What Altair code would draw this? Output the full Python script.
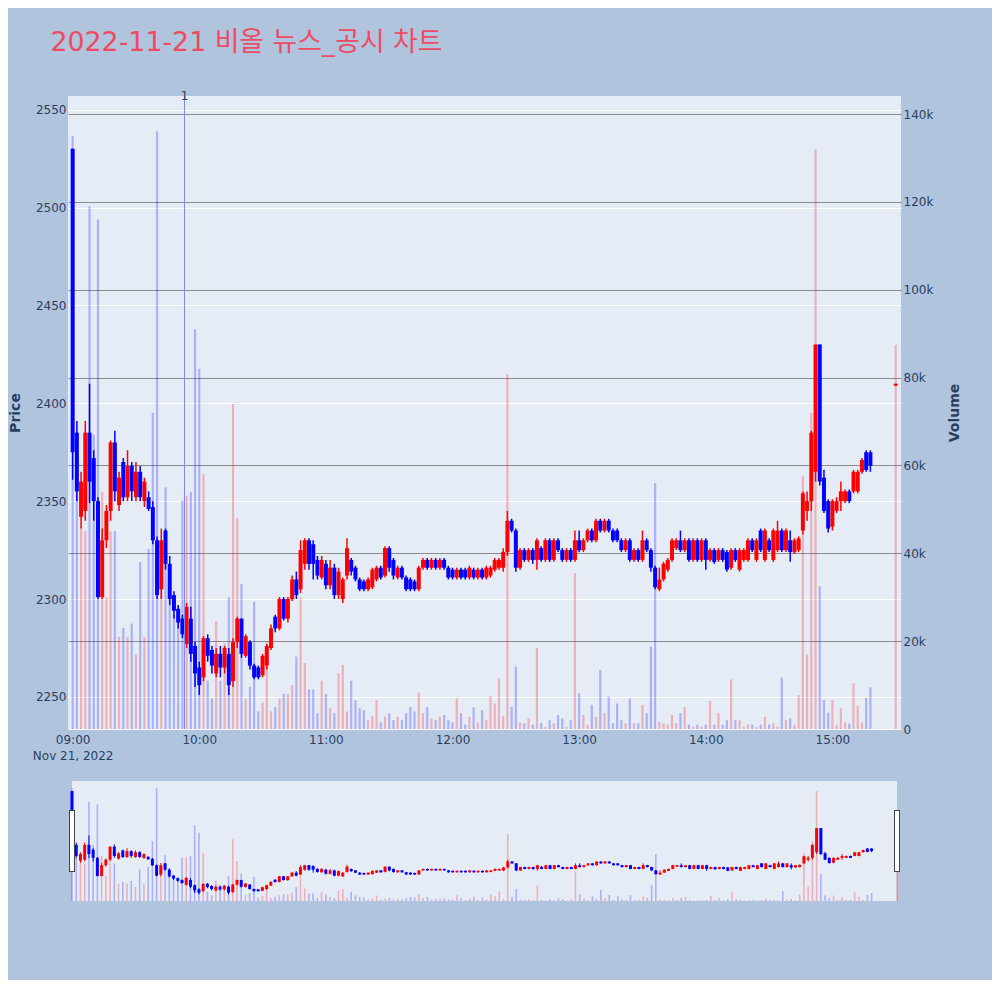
import altair as alt
import pandas as pd

TITLE = "2022-11-21 비올 뉴스_공시 차트"

# 2-minute candles from 09:00 to 15:18, plus the 15:30 closing auction
minutes = list(range(0, 380, 2)) + [390]
times = [f"2022-11-21T{9 + m // 60:02d}:{m % 60:02d}:00" for m in minutes]

opens = [
    2530, 2385, 2342, 2345, 2385, 2372, 2350, 2301, 2330, 2345,
    2380, 2348, 2370, 2352, 2368, 2352, 2365, 2350, 2352, 2347,
    2330, 2305, 2335, 2318, 2302, 2295, 2290, 2277, 2290, 2276,
    2265, 2260, 2280, 2274, 2262, 2272, 2265, 2272, 2258, 2278,
    2290, 2271, 2278, 2266, 2265, 2261, 2266, 2275, 2291, 2285,
    2300, 2290, 2300, 2310, 2305, 2318, 2330, 2328, 2320, 2311,
    2318, 2307, 2316, 2302, 2300, 2312, 2320, 2316, 2310, 2309,
    2305, 2306, 2310, 2316, 2312, 2326, 2320, 2311, 2316, 2311,
    2310, 2309, 2305, 2316, 2320, 2316, 2320, 2316, 2320, 2316,
    2315, 2311, 2315, 2315, 2311, 2315, 2311, 2315, 2311, 2312,
    2315, 2316, 2316, 2324, 2340, 2335, 2316, 2325, 2320, 2325,
    2320, 2326, 2320, 2330, 2320, 2330, 2325, 2320, 2325, 2320,
    2330, 2325, 2330, 2335, 2330, 2340, 2335, 2340, 2335, 2335,
    2330, 2325, 2330, 2320, 2325, 2320, 2330, 2325, 2316, 2305,
    2310, 2315, 2320, 2326, 2330, 2325, 2330, 2320, 2330, 2320,
    2330, 2320, 2325, 2320, 2325, 2324, 2316, 2325, 2315, 2320,
    2320, 2330, 2320, 2335, 2320, 2330, 2320, 2325, 2335, 2325,
    2330, 2324, 2325, 2335, 2345, 2350, 2365, 2430, 2362, 2350,
    2337, 2345, 2350, 2350, 2355, 2355, 2355, 2365, 2375, 2375,
    2409,
]
highs = [
    2530, 2391, 2365, 2391, 2410, 2376, 2352, 2336, 2348, 2381,
    2386, 2365, 2372, 2376, 2370, 2370, 2368, 2362, 2355, 2350,
    2332, 2336, 2336, 2322, 2304, 2297, 2292, 2298, 2296, 2278,
    2268, 2281, 2282, 2276, 2275, 2276, 2276, 2275, 2280, 2291,
    2290, 2282, 2279, 2267, 2266, 2272, 2277, 2287, 2292, 2301,
    2301, 2301, 2312, 2314, 2330, 2331, 2331, 2330, 2322, 2322,
    2320, 2320, 2318, 2316, 2311, 2331, 2321, 2317, 2311, 2310,
    2311, 2316, 2317, 2317, 2327, 2327, 2321, 2317, 2317, 2312,
    2311, 2310, 2317, 2321, 2321, 2321, 2321, 2321, 2321, 2317,
    2316, 2316, 2316, 2316, 2317, 2316, 2316, 2316, 2317, 2317,
    2321, 2321, 2326, 2345, 2341, 2336, 2326, 2326, 2326, 2326,
    2331, 2327, 2331, 2331, 2331, 2331, 2326, 2326, 2326, 2335,
    2335, 2331, 2336, 2336, 2341, 2341, 2341, 2341, 2336, 2336,
    2331, 2331, 2331, 2326, 2326, 2335, 2331, 2326, 2317, 2316,
    2319, 2321, 2331, 2331, 2335, 2331, 2331, 2331, 2331, 2331,
    2331, 2326, 2326, 2326, 2326, 2325, 2326, 2326, 2326, 2326,
    2331, 2331, 2331, 2336, 2336, 2331, 2336, 2340, 2336, 2336,
    2335, 2331, 2332, 2355, 2355, 2386, 2430, 2430, 2366, 2351,
    2351, 2352, 2360, 2356, 2356, 2366, 2366, 2372, 2376, 2376,
    2410,
]
lows = [
    2361, 2350, 2336, 2340, 2349, 2340, 2300, 2300, 2326, 2340,
    2350, 2345, 2350, 2350, 2350, 2350, 2350, 2347, 2345, 2328,
    2300, 2300, 2315, 2297, 2290, 2285, 2280, 2275, 2268, 2255,
    2251, 2258, 2268, 2262, 2260, 2260, 2262, 2251, 2255, 2275,
    2270, 2270, 2264, 2259, 2259, 2260, 2264, 2274, 2283, 2284,
    2289, 2288, 2299, 2300, 2303, 2315, 2315, 2310, 2310, 2310,
    2305, 2305, 2300, 2300, 2298, 2310, 2312, 2309, 2304, 2304,
    2304, 2305, 2309, 2310, 2311, 2314, 2310, 2310, 2310, 2304,
    2304, 2304, 2304, 2315, 2315, 2315, 2315, 2315, 2315, 2310,
    2310, 2310, 2310, 2310, 2310, 2310, 2310, 2310, 2310, 2311,
    2314, 2315, 2314, 2322, 2334, 2314, 2315, 2319, 2319, 2318,
    2315, 2319, 2319, 2319, 2319, 2324, 2319, 2319, 2319, 2319,
    2324, 2324, 2329, 2329, 2329, 2334, 2334, 2334, 2329, 2329,
    2324, 2324, 2319, 2319, 2319, 2319, 2324, 2314, 2305, 2304,
    2309, 2314, 2319, 2325, 2324, 2324, 2319, 2319, 2319, 2319,
    2315, 2319, 2318, 2319, 2319, 2314, 2315, 2319, 2314, 2319,
    2319, 2324, 2319, 2324, 2319, 2324, 2319, 2324, 2324, 2324,
    2319, 2323, 2324, 2333, 2340, 2345, 2360, 2358, 2344, 2334,
    2335, 2344, 2345, 2349, 2349, 2354, 2354, 2364, 2365, 2365,
    2409,
]
closes = [
    2375, 2355, 2360, 2385, 2360, 2350, 2301, 2330, 2345, 2380,
    2355, 2362, 2352, 2368, 2355, 2365, 2352, 2360, 2346, 2330,
    2302, 2330, 2318, 2300, 2294, 2288, 2282, 2296, 2272, 2262,
    2256, 2280, 2271, 2266, 2272, 2265, 2275, 2256, 2278, 2290,
    2272, 2281, 2266, 2260, 2260, 2271, 2276, 2285, 2285, 2300,
    2290, 2300, 2310, 2302, 2325, 2330, 2318, 2318, 2312, 2320,
    2307, 2316, 2302, 2314, 2310, 2326, 2314, 2310, 2305, 2305,
    2310, 2315, 2316, 2311, 2326, 2316, 2312, 2316, 2311, 2305,
    2305, 2305, 2316, 2320, 2316, 2320, 2316, 2320, 2316, 2311,
    2311, 2315, 2311, 2311, 2316, 2311, 2315, 2311, 2316, 2316,
    2320, 2320, 2324, 2340, 2335, 2316, 2325, 2320, 2325, 2320,
    2330, 2320, 2330, 2320, 2330, 2325, 2320, 2325, 2320, 2330,
    2325, 2330, 2335, 2330, 2340, 2335, 2340, 2335, 2330, 2330,
    2325, 2330, 2320, 2325, 2320, 2330, 2325, 2316, 2306, 2310,
    2318, 2320, 2330, 2330, 2325, 2330, 2320, 2330, 2320, 2330,
    2320, 2325, 2319, 2325, 2320, 2315, 2325, 2320, 2325, 2325,
    2330, 2325, 2330, 2325, 2335, 2325, 2335, 2335, 2325, 2335,
    2324, 2330, 2331, 2354, 2350, 2385, 2430, 2360, 2345, 2336,
    2350, 2350, 2355, 2355, 2350, 2365, 2365, 2371, 2366, 2368,
    2410,
]
volumes_k = [
    135, 63, 46, 45, 119, 67, 116, 54, 30, 45,
    45, 21, 23, 21, 24, 17, 38, 21, 41, 72,
    136, 42, 55, 36, 26, 28, 52, 53, 54, 91,
    82, 58, 11, 7, 24.5, 11, 19.5, 30, 74, 48,
    33, 7, 9.6, 29, 4, 6, 20, 4, 5, 7,
    8, 8, 10, 16.5, 30, 15, 9, 9, 3.6, 11,
    8, 4.8, 3.6, 12.7, 14.6, 4, 11, 6.6, 4.8, 4.3,
    2, 3, 6.6, 1.5, 2.8, 3.6, 2, 2.8, 2, 3.6,
    5, 4, 8.3, 3.6, 5, 2.4, 2, 2.8, 3.2, 2,
    1.5, 7, 3.6, 1, 2.8, 5, 1.5, 4.3, 2, 7.5,
    5.8, 11.5, 3, 80.7, 5, 14.2, 1.5, 1.3, 2.4, 1,
    18.4, 1.3, 0.5, 2, 1.3, 3.2, 2.4, 0.5, 2, 35.5,
    8.1, 3.2, 1, 5.5, 2.8, 13.4, 3.6, 7.4, 1.3, 5.8,
    2, 1.3, 7, 1.3, 1.3, 5.5, 3.6, 18.8, 56, 1.7,
    1.3, 1, 3.2, 1.3, 3.6, 5, 1, 0.5, 1, 0.5,
    1, 6.4, 1, 3.6, 1, 2, 11.3, 2, 2, 0.5,
    1, 1, 0.5, 1, 2.8, 1, 1.3, 0.5, 11.7, 2,
    2.4, 1, 7.7, 57.5, 17, 72, 132, 32.5, 6.6, 3.7,
    6.6, 1, 4.7, 1.5, 1.2, 10.4, 5.2, 1.5, 7.1, 9.5,
    87.5,
]

news_times = ["2022-11-21T09:53:00"]
news_labels = ["1"]
price_ticks = [2250, 2300, 2350, 2400, 2450, 2500, 2550]
volume_ticks = [0, 20, 40, 60, 80, 100, 120, 140]

df = pd.DataFrame({
    "time": times, "open": opens, "high": highs, "low": lows,
    "close": closes, "volume": volumes_k,
})
df["dir"] = ["up" if c > o else "down" for o, c in zip(opens, closes)]
news_df = pd.DataFrame({"time": news_times, "label": news_labels})
edge_df = pd.DataFrame({"time": [times[0], times[-1]]})
span_df = pd.DataFrame({"start": [times[0]], "end": [times[-1]]})

FONT = "DejaVu Sans, Noto Sans CJK KR, sans-serif"
TXT = "#2a3f5f"
UP, DOWN = "#ff0000", "#0000ff"
PLOT_BG = "#E5ECF6"


def dt(h, m, s=0):
    return alt.DateTime(year=2022, month=11, date=21, hours=h, minutes=m, seconds=s)


color = alt.Color("dir:N", scale=alt.Scale(domain=["up", "down"], range=[UP, DOWN]), legend=None)

# ---------------- main panel ----------------
x_axis = alt.Axis(
    values=[dt(h, 0) for h in range(9, 16)],
    labelExpr="hours(datum.value) == 9 ? ['09:00', 'Nov 21, 2022'] : timeFormat(datum.value, '%H:%M')",
    grid=False, ticks=False, domain=False, title=None, labelFlush=False,
    labelPadding=5, labelLineHeight=16, labelFontSize=12,
)
X = alt.X("time:T", scale=alt.Scale(domain=[dt(8, 57, 48), dt(15, 32, 30)], padding=0), axis=x_axis)

price_scale = alt.Scale(domain=[2233.6, 2557], nice=False, zero=False)
price_axis = alt.Axis(
    orient="left", values=price_ticks, format="d", grid=True, gridColor="white",
    gridWidth=1, ticks=False, domain=False, labelFlush=False, labelPadding=2,
    title="Price", titleFontSize=14, titleFontWeight="bold", titlePadding=13,
)
vol_axis = alt.Axis(
    orient="right", values=volume_ticks,
    labelExpr="datum.value == 0 ? '0' : datum.value + 'k'",
    grid=True,
    gridColor={"condition": {"test": "datum.value === 0", "value": "white"}, "value": "#8c8c8c"},
    gridWidth=1.2, ticks=False, domain=False, labelFlush=False, labelPadding=2,
    title="Volume", titleFontSize=14, titleFontWeight="bold", titleAngle=270, titlePadding=29,
)
vol_scale = alt.Scale(domain=[0, 144.1], nice=False)

base = alt.Chart(df)
vol = base.mark_rule(strokeWidth=2.2, opacity=0.25).encode(
    x=X, y=alt.Y("volume:Q", scale=vol_scale, axis=vol_axis), y2=alt.datum(0),
    color=color,
)
wick = base.mark_rule(strokeWidth=1.5).encode(
    x=X, y=alt.Y("low:Q", scale=price_scale, axis=price_axis), y2="high:Q", color=color
)
body = base.mark_rule(strokeWidth=4).encode(
    x=X, y=alt.Y("open:Q", scale=price_scale, axis=price_axis), y2="close:Q", color=color
)
news_rule = alt.Chart(news_df).mark_rule(color="#7b8cf2", strokeWidth=1).encode(x=X)
news_text = alt.Chart(news_df).mark_text(font=FONT, fontSize=12, color=TXT, baseline="middle").encode(
    x=X, y=alt.value(0), text="label:N"
)

main = alt.layer(vol, alt.layer(wick, body), news_rule, news_text).resolve_scale(
    y="independent"
).properties(width=833, height=633, view=alt.ViewBackground(fill=PLOT_BG))

# ---------------- range slider ----------------
s_scale = alt.Scale(domain=[dt(9, 0), dt(15, 30)], range=[4, 829], padding=0)
SX = alt.X("time:T", scale=s_scale, axis=None)

s_bg = alt.Chart(span_df).mark_rect(color=PLOT_BG).encode(
    x=alt.X("start:T", scale=s_scale, axis=None), x2="end:T"
)
s_vol = base.mark_rule(strokeWidth=1.6, opacity=0.25).encode(
    x=SX, y=alt.Y("volume:Q", scale=vol_scale, axis=None), y2=alt.datum(0), color=color
)
s_wick = base.mark_rule(strokeWidth=1).encode(
    x=SX, y=alt.Y("low:Q", scale=price_scale, axis=None), y2="high:Q", color=color
)
s_body = base.mark_rule(strokeWidth=3).encode(
    x=SX, y=alt.Y("open:Q", scale=price_scale, axis=None), y2="close:Q", color=color
)
s_handle_edge = alt.Chart(edge_df).mark_rule(color="#444444", strokeWidth=6).encode(
    x=SX, y=alt.value(29), y2=alt.value(91)
)
s_handle_fill = alt.Chart(edge_df).mark_rule(color="white", strokeWidth=4).encode(
    x=SX, y=alt.value(30), y2=alt.value(90)
)

slider = alt.layer(
    s_bg, s_vol, alt.layer(s_wick, s_body), s_handle_edge, s_handle_fill
).resolve_scale(y="independent").properties(width=833, height=120)

chart = alt.vconcat(main, slider, spacing=20).properties(
    title=alt.TitleParams(
        TITLE, anchor="start", fontSize=26.8, fontWeight="normal", color="#EE4B63",
        font=FONT, offset=33, dx=42,
    ),
    padding={"left": 0, "top": 22, "right": 30, "bottom": 78},
    background="#B0C4DE",
).configure_view(strokeWidth=0).configure_axis(
    labelFont=FONT, titleFont=FONT, labelColor=TXT, titleColor=TXT, labelFontSize=12
)

chart.save("out.html", embed_options={"renderer": "svg", "actions": False})
